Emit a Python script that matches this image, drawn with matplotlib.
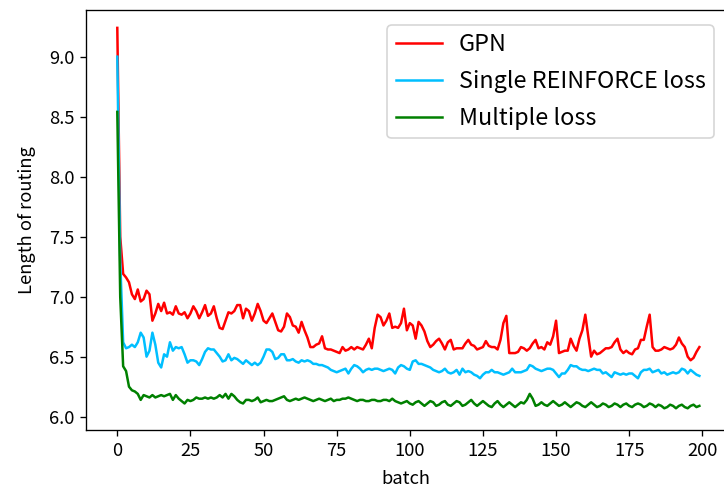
import numpy as np
import matplotlib
matplotlib.use('Agg')
import matplotlib.pyplot as plt

plt.rcParams['font.family'] = ['Noto Sans CJK SC', 'DejaVu Sans']

# values, one per batch (0..199)
gpn = [9.24, 7.50, 7.19, 7.16, 7.12, 7.02, 6.98, 7.06, 6.96, 6.98,
       7.05, 7.02, 6.80, 6.86, 6.94, 6.88, 6.95, 6.86, 6.87, 6.85,
       6.92, 6.86, 6.85, 6.87, 6.82, 6.86, 6.92, 6.88, 6.82, 6.87,
       6.93, 6.84, 6.86, 6.92, 6.82, 6.74, 6.73, 6.80, 6.87, 6.86,
       6.88, 6.93, 6.93, 6.82, 6.90, 6.88, 6.80, 6.86, 6.94, 6.88,
       6.80, 6.78, 6.82, 6.86, 6.79, 6.72, 6.71, 6.75, 6.86, 6.83,
       6.76, 6.75, 6.70, 6.79, 6.72, 6.66, 6.58, 6.58, 6.60, 6.61,
       6.67, 6.57, 6.56, 6.56, 6.55, 6.54, 6.53, 6.58, 6.55, 6.56,
       6.58, 6.56, 6.58, 6.57, 6.56, 6.60, 6.65, 6.57, 6.74, 6.85,
       6.83, 6.76, 6.80, 6.86, 6.74, 6.75, 6.74, 6.78, 6.90, 6.72,
       6.78, 6.76, 6.65, 6.79, 6.76, 6.71, 6.63, 6.58, 6.60, 6.63,
       6.65, 6.61, 6.56, 6.62, 6.64, 6.56, 6.57, 6.57, 6.57, 6.61,
       6.64, 6.60, 6.59, 6.56, 6.57, 6.58, 6.63, 6.59, 6.58, 6.58,
       6.56, 6.64, 6.78, 6.84, 6.53, 6.53, 6.53, 6.54, 6.58, 6.57,
       6.55, 6.57, 6.61, 6.64, 6.57, 6.58, 6.56, 6.62, 6.60, 6.67,
       6.80, 6.53, 6.54, 6.55, 6.55, 6.65, 6.59, 6.55, 6.65, 6.72,
       6.85, 6.67, 6.50, 6.55, 6.52, 6.53, 6.55, 6.57, 6.57, 6.58,
       6.62, 6.65, 6.56, 6.53, 6.55, 6.53, 6.52, 6.56, 6.57, 6.64,
       6.64, 6.75, 6.85, 6.58, 6.55, 6.55, 6.56, 6.58, 6.57, 6.56,
       6.57, 6.60, 6.66, 6.61, 6.58, 6.50, 6.47, 6.49, 6.54, 6.58]

single = [9.00, 7.30, 6.62, 6.57, 6.58, 6.60, 6.58, 6.62, 6.70, 6.66,
          6.50, 6.55, 6.70, 6.60, 6.45, 6.41, 6.52, 6.50, 6.62, 6.55,
          6.58, 6.57, 6.58, 6.52, 6.45, 6.47, 6.47, 6.46, 6.43, 6.48,
          6.54, 6.57, 6.56, 6.56, 6.53, 6.50, 6.46, 6.47, 6.52, 6.47,
          6.49, 6.48, 6.46, 6.44, 6.47, 6.45, 6.43, 6.45, 6.43, 6.45,
          6.50, 6.56, 6.56, 6.54, 6.48, 6.49, 6.52, 6.52, 6.47, 6.47,
          6.48, 6.46, 6.45, 6.47, 6.46, 6.47, 6.46, 6.44, 6.44, 6.43,
          6.43, 6.42, 6.41, 6.39, 6.38, 6.37, 6.38, 6.39, 6.40, 6.36,
          6.40, 6.43, 6.42, 6.40, 6.37, 6.39, 6.40, 6.39, 6.40, 6.40,
          6.39, 6.38, 6.39, 6.40, 6.39, 6.36, 6.41, 6.43, 6.42, 6.40,
          6.39, 6.46, 6.47, 6.44, 6.44, 6.43, 6.42, 6.41, 6.39, 6.38,
          6.37, 6.38, 6.40, 6.37, 6.36, 6.37, 6.39, 6.35, 6.40, 6.37,
          6.38, 6.37, 6.35, 6.34, 6.32, 6.35, 6.37, 6.37, 6.39, 6.37,
          6.37, 6.36, 6.35, 6.36, 6.37, 6.40, 6.37, 6.37, 6.37, 6.38,
          6.39, 6.43, 6.42, 6.40, 6.39, 6.38, 6.39, 6.40, 6.40, 6.39,
          6.36, 6.33, 6.36, 6.36, 6.39, 6.43, 6.42, 6.42, 6.40, 6.39,
          6.39, 6.38, 6.39, 6.40, 6.39, 6.39, 6.36, 6.37, 6.35, 6.33,
          6.37, 6.36, 6.35, 6.36, 6.35, 6.36, 6.36, 6.34, 6.32, 6.37,
          6.39, 6.39, 6.40, 6.37, 6.38, 6.39, 6.36, 6.37, 6.35, 6.36,
          6.37, 6.36, 6.37, 6.40, 6.39, 6.36, 6.39, 6.37, 6.35, 6.34]

multiple = [8.54, 7.00, 6.42, 6.38, 6.25, 6.22, 6.21, 6.19, 6.14, 6.18,
            6.17, 6.16, 6.18, 6.16, 6.17, 6.18, 6.17, 6.18, 6.19, 6.14,
            6.18, 6.15, 6.13, 6.11, 6.14, 6.13, 6.14, 6.16, 6.15, 6.15,
            6.16, 6.15, 6.16, 6.15, 6.16, 6.18, 6.16, 6.19, 6.15, 6.19,
            6.17, 6.14, 6.12, 6.11, 6.14, 6.14, 6.13, 6.14, 6.16, 6.12,
            6.13, 6.14, 6.13, 6.13, 6.14, 6.15, 6.16, 6.17, 6.14, 6.13,
            6.14, 6.15, 6.14, 6.15, 6.16, 6.15, 6.14, 6.13, 6.14, 6.15,
            6.14, 6.13, 6.14, 6.15, 6.13, 6.14, 6.14, 6.15, 6.15, 6.16,
            6.15, 6.14, 6.13, 6.14, 6.14, 6.13, 6.13, 6.14, 6.14, 6.13,
            6.13, 6.14, 6.14, 6.13, 6.15, 6.13, 6.12, 6.11, 6.12, 6.13,
            6.11, 6.10, 6.12, 6.13, 6.11, 6.09, 6.11, 6.13, 6.12, 6.09,
            6.10, 6.12, 6.13, 6.10, 6.09, 6.11, 6.13, 6.12, 6.09, 6.10,
            6.12, 6.14, 6.11, 6.09, 6.11, 6.13, 6.11, 6.09, 6.08, 6.11,
            6.13, 6.10, 6.08, 6.10, 6.12, 6.10, 6.08, 6.10, 6.12, 6.11,
            6.14, 6.19, 6.15, 6.09, 6.10, 6.12, 6.10, 6.09, 6.11, 6.13,
            6.11, 6.09, 6.10, 6.12, 6.10, 6.08, 6.10, 6.12, 6.11, 6.09,
            6.08, 6.10, 6.12, 6.10, 6.08, 6.09, 6.11, 6.10, 6.08, 6.09,
            6.11, 6.10, 6.08, 6.10, 6.11, 6.09, 6.08, 6.10, 6.11, 6.10,
            6.08, 6.09, 6.11, 6.10, 6.08, 6.10, 6.09, 6.07, 6.08, 6.10,
            6.09, 6.07, 6.09, 6.10, 6.08, 6.07, 6.09, 6.10, 6.08, 6.09]

labels = ['GPN', 'Single REINFORCE loss', 'Multiple loss']
colors = ['red', 'deepskyblue', 'green']

fig = plt.figure(figsize=(7.24 / 1.2, 4.93 / 1.2), dpi=120)
ax = fig.add_axes([86 / 724, 63 / 493, 640 / 724, 420 / 493])

batch = np.arange(len(gpn))
for ys, lab, c in zip([gpn, single, multiple], labels, colors):
    ax.plot(batch, ys, color=c, label=lab, lw=1.5)

ax.set_xlim(-10.7, 208.1)
ax.set_ylim(5.889, 9.389)
ax.set_xticks(np.arange(0, 201, 25))
ax.set_yticks(np.arange(6.0, 9.01, 0.5))
ax.set_xlabel('batch', fontsize=11, labelpad=6)
ax.set_ylabel('Length of routing', fontsize=11, labelpad=8)
ax.tick_params(labelsize=11)
ax.legend(loc='upper right', fontsize=14, bbox_to_anchor=(0.999, 0.992),
          borderpad=0.35, handletextpad=0.7, labelspacing=0.6)

fig.savefig('out.png', dpi=120)
